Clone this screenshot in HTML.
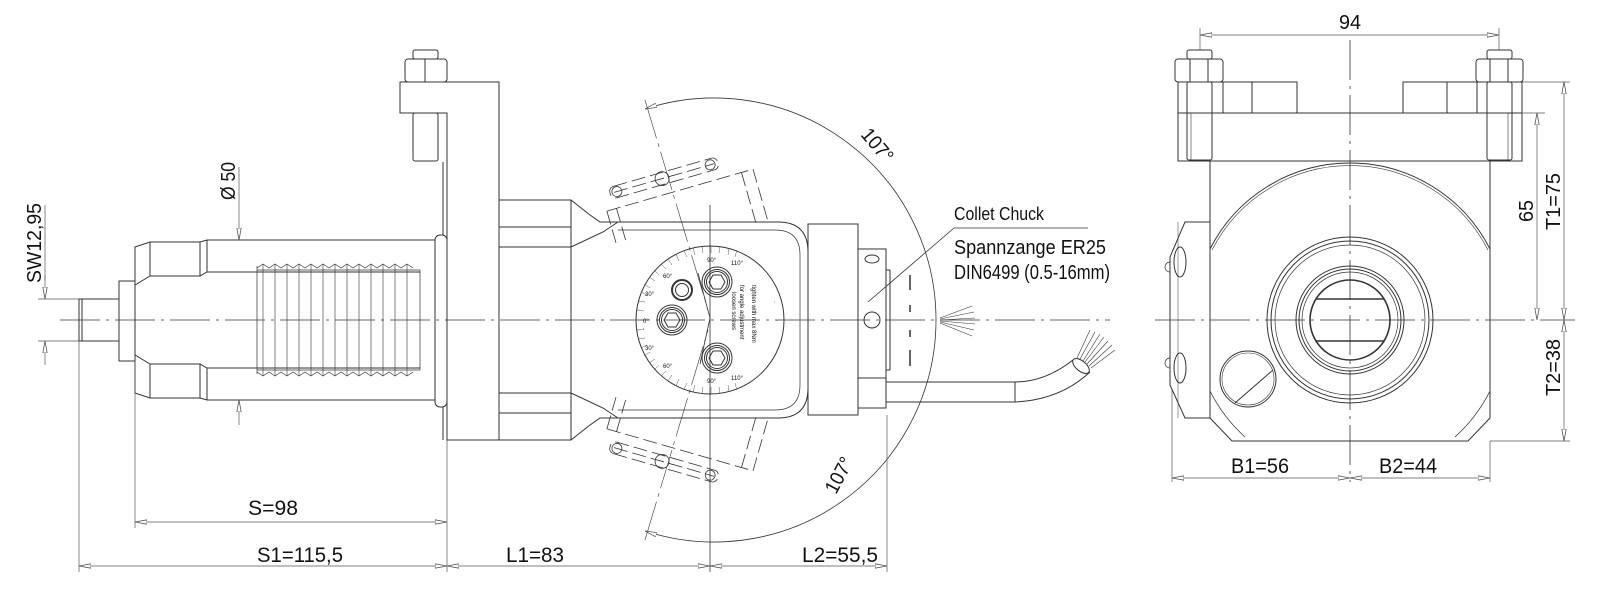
<!DOCTYPE html>
<html><head><meta charset="utf-8"><style>
html,body{margin:0;padding:0;background:#fff;}
svg{display:block;}
text{font-family:"Liberation Sans",sans-serif;fill:#111;}
</style></head><body>
<svg width="1600" height="615" viewBox="0 0 1600 615" xmlns="http://www.w3.org/2000/svg">
<defs>
<marker id="a" viewBox="0 0 12 6" refX="12" refY="3" markerWidth="12" markerHeight="6" orient="auto-start-reverse" markerUnits="userSpaceOnUse">
<path d="M0,0.8 L12,3 L0,5.2 Z" fill="#fff" stroke="#555" stroke-width="0.8"/></marker>
</defs>
<g fill="none" stroke="#333" stroke-width="1">
<!-- centerlines -->
<line x1="60" y1="320" x2="1110" y2="320" stroke-dasharray="40,6,3,6" stroke-width="0.8"/>
<line x1="1155" y1="320" x2="1575" y2="320" stroke-dasharray="40,6,3,6" stroke-width="0.8"/>
<line x1="1350" y1="40" x2="1350" y2="482" stroke-dasharray="40,6,3,6" stroke-width="0.8"/>
<line x1="710" y1="205" x2="710" y2="572" stroke-width="0.8"/>

<!-- LEFT VIEW: shaft -->
<rect x="79" y="299" width="40" height="42"/>
<line x1="82" y1="299" x2="82" y2="341"/>
<rect x="119" y="281" width="16" height="80"/>
<path d="M135,247 L150,242 L200,242 L207,240 L435,240 L435,400 L207,400 L200,398 L150,398 L135,393 Z"/>
<path d="M135,285 L150,276 L200,276 L207,272 L420,272 M135,355 L150,364 L200,364 L207,368 L420,368"/>
<line x1="150" y1="242" x2="150" y2="276"/><line x1="150" y1="364" x2="150" y2="398"/>
<line x1="200" y1="242" x2="200" y2="276"/><line x1="200" y1="364" x2="200" y2="398"/>
<line x1="207" y1="240" x2="207" y2="272"/><line x1="207" y1="368" x2="207" y2="400"/>
<!-- threads -->
<path d="M257,266 l0,108 M420,270 l0,100 M257,270 L420,270 M257,370 L420,370" stroke-width="0.7"/>
<path id="thr" d="M257,268 l6,-4 l6,4 l6,-4 l6,4 l6,-4 l6,4 l6,-4 l6,4 l6,-4 l6,4 l6,-4 l6,4 l6,-4 l6,4 l6,-4 l6,4 l6,-4 l6,4 l6,-4 l6,4 l6,-4 l6,4 l6,-4 l6,4 l6,-4 l6,4" stroke-width="0.7"/>
<path d="M257,372 l6,4 l6,-4 l6,4 l6,-4 l6,4 l6,-4 l6,4 l6,-4 l6,4 l6,-4 l6,4 l6,-4 l6,4 l6,-4 l6,4 l6,-4 l6,4 l6,-4 l6,4 l6,-4 l6,4 l6,-4 l6,4 l6,-4 l6,4 l6,-4" stroke-width="0.7"/>
<g stroke-width="0.6">
<line x1="263" y1="264" x2="263" y2="376"/><line x1="275" y1="264" x2="275" y2="376"/><line x1="287" y1="264" x2="287" y2="376"/><line x1="299" y1="264" x2="299" y2="376"/><line x1="311" y1="264" x2="311" y2="376"/><line x1="323" y1="264" x2="323" y2="376"/><line x1="335" y1="264" x2="335" y2="376"/><line x1="347" y1="264" x2="347" y2="376"/><line x1="359" y1="264" x2="359" y2="376"/><line x1="371" y1="264" x2="371" y2="376"/><line x1="383" y1="264" x2="383" y2="376"/><line x1="395" y1="264" x2="395" y2="376"/><line x1="407" y1="264" x2="407" y2="376"/>
</g>
<rect x="435" y="235" width="12" height="172" rx="5"/>
<!-- bolt & clamp plate -->
<rect x="413" y="50" width="25" height="9" rx="2"/>
<rect x="405" y="59" width="42" height="23" rx="3"/>
<line x1="425" y1="59" x2="425" y2="82"/>
<rect x="413" y="113" width="25" height="48" rx="2"/>
<path d="M400,82 L499,82 L499,440 L447,440 L447,113 L400,113 Z"/>
<line x1="443" y1="162" x2="443" y2="235"/><line x1="443" y1="407" x2="443" y2="440"/>
<!-- housing -->
<rect x="499" y="200" width="72" height="240"/>
<line x1="499" y1="227" x2="571" y2="227"/><line x1="499" y1="247" x2="571" y2="247"/>
<line x1="499" y1="393" x2="571" y2="393"/><line x1="499" y1="413" x2="571" y2="413"/>
<path d="M571,247 L603,232 L618,222 M571,393 L603,408 L618,418"/>
<path d="M571,200 L590,215 L600,222 L618,222 M571,440 L590,425 L600,418 L618,418"/>
<!-- head -->
<path d="M618,222 L778,222 Q808,222 808,252 L808,388 Q808,418 778,418 L618,418"/>
<path d="M618,230 L775,230 Q800,230 800,255 L800,385 Q800,410 775,410 L618,410" stroke-width="0.7"/>
<rect x="808" y="224" width="50" height="191"/>
<rect x="858" y="249" width="28" height="129"/>
<ellipse cx="872" cy="259" rx="7" ry="4"/>
<circle cx="872" cy="320" r="8"/>
<rect x="886" y="270" width="4" height="100"/>
<g stroke-width="1.5"><line x1="910" y1="275" x2="910" y2="290"/><line x1="910" y1="305" x2="910" y2="312"/><line x1="910" y1="330" x2="910" y2="337"/><line x1="910" y1="350" x2="910" y2="366"/></g>
<rect x="858" y="378" width="28" height="30"/>
<!-- cable -->
<path d="M886,382 L1015,382 Q1045,382 1073,360 M886,402 L1015,402 Q1060,400 1090,372"/>
<line x1="1015" y1="382" x2="1015" y2="402"/>
<ellipse cx="1081" cy="366" rx="10" ry="5" transform="rotate(40 1081 366)"/>
<g stroke-width="0.6"><line x1="1077" y1="358" x2="1090" y2="330"/><line x1="1080" y1="359" x2="1095" y2="332"/><line x1="1083" y1="361" x2="1100" y2="334"/><line x1="1085" y1="362" x2="1104" y2="337"/><line x1="1087" y1="364" x2="1108" y2="341"/><line x1="1089" y1="366" x2="1112" y2="345"/><line x1="1091" y1="368" x2="1115" y2="350"/></g>
<g stroke-width="0.6"><line x1="940" y1="318" x2="972" y2="306"/><line x1="940" y1="319" x2="974" y2="312"/><line x1="940" y1="320" x2="975" y2="318"/><line x1="940" y1="321" x2="975" y2="324"/><line x1="940" y1="322" x2="974" y2="330"/><line x1="940" y1="323" x2="972" y2="336"/></g>
<!-- dial -->
<circle cx="710" cy="320" r="74"/>
<circle cx="710" cy="320" r="67" stroke-width="0.5" stroke-dasharray="1,200"/>
<path id="ticks" stroke-width="0.6" d=""/>
<path d="M698,273 L710,318 L700,364" stroke-width="0.8"/>
<g id="scr">
<circle cx="672" cy="320" r="15"/><circle cx="672" cy="320" r="12.5"/><circle cx="672" cy="320" r="10.5"/><path d="M664,320 l4,-7 l8,0 l4,7 l-4,7 l-8,0 Z"/>
<circle cx="717" cy="282" r="15"/><circle cx="717" cy="282" r="12.5"/><circle cx="717" cy="282" r="10.5"/><path d="M709,282 l4,-7 l8,0 l4,7 l-4,7 l-8,0 Z"/>
<circle cx="717" cy="358" r="15"/><circle cx="717" cy="358" r="12.5"/><circle cx="717" cy="358" r="10.5"/><path d="M709,358 l4,-7 l8,0 l4,7 l-4,7 l-8,0 Z"/>
</g>
<circle cx="682" cy="290" r="10" stroke-width="2"/><circle cx="682" cy="290" r="6.5"/>
<!-- ghost heads -->
<g stroke-dasharray="14,5" stroke-width="0.8" transform="rotate(-16 650 180)">
<path d="M600,198 L752,198 L752,255"/><path d="M740,198 L740,255"/>
<rect x="608" y="176" width="112" height="12" rx="5"/>
<line x1="612" y1="182" x2="716" y2="182"/>
<circle cx="615" cy="182" r="5" stroke-dasharray="none"/><circle cx="662" cy="182" r="7" stroke-dasharray="none"/><circle cx="712" cy="182" r="5" stroke-dasharray="none"/>
<line x1="600" y1="198" x2="600" y2="235"/><line x1="610" y1="198" x2="610" y2="235"/>
</g>
<g stroke-dasharray="14,5" stroke-width="0.8" transform="translate(0,640) scale(1,-1) rotate(-16 650 180)">
<path d="M600,198 L752,198 L752,255"/><path d="M740,198 L740,255"/>
<rect x="608" y="176" width="112" height="12" rx="5"/>
<line x1="612" y1="182" x2="716" y2="182"/>
<circle cx="615" cy="182" r="5" stroke-dasharray="none"/><circle cx="662" cy="182" r="7" stroke-dasharray="none"/><circle cx="712" cy="182" r="5" stroke-dasharray="none"/>
<line x1="600" y1="198" x2="600" y2="235"/><line x1="610" y1="198" x2="610" y2="235"/>
</g>
<line x1="645" y1="100" x2="708" y2="310" stroke-width="0.6" stroke-dasharray="40,5,4,5"/>
<line x1="645" y1="540" x2="708" y2="330" stroke-width="0.6" stroke-dasharray="40,5,4,5"/>
<!-- 107 arc -->
<path d="M645,109 A222,222 0 1 1 645,531" stroke-width="0.8" marker-start="url(#a)" marker-end="url(#a)"/>
<!-- collet leader -->
<path d="M1088,228 L954,228 L868,302" stroke-width="0.8"/>

<!-- dimensions left -->
<g stroke-width="0.7" stroke="#555">
<line x1="38" y1="299" x2="79" y2="299"/><line x1="38" y1="341" x2="79" y2="341"/>
<line x1="45" y1="275" x2="45" y2="299" marker-end="url(#a)"/><line x1="45" y1="365" x2="45" y2="341" marker-end="url(#a)"/>
<line x1="45" y1="205" x2="45" y2="280"/>
<line x1="239" y1="167" x2="239" y2="240" marker-end="url(#a)"/><line x1="239" y1="425" x2="239" y2="400" marker-end="url(#a)"/>
<line x1="79" y1="341" x2="79" y2="572"/><line x1="135" y1="361" x2="135" y2="528"/><line x1="447" y1="440" x2="447" y2="572"/><line x1="887" y1="415" x2="887" y2="572"/>
<line x1="135" y1="522" x2="447" y2="522" marker-start="url(#a)" marker-end="url(#a)"/>
<line x1="79" y1="566" x2="447" y2="566" marker-start="url(#a)" marker-end="url(#a)"/>
<line x1="447" y1="566" x2="710" y2="566" marker-start="url(#a)" marker-end="url(#a)"/>
<line x1="710" y1="566" x2="887" y2="566" marker-start="url(#a)" marker-end="url(#a)"/>
</g>

<!-- RIGHT VIEW -->
<rect x="1187" y="50" width="25" height="9" rx="2"/><rect x="1175" y="59" width="48" height="23" rx="3"/>
<line x1="1190" y1="59" x2="1190" y2="82"/><line x1="1208" y1="59" x2="1208" y2="82"/>
<rect x="1487" y="50" width="25" height="9" rx="2"/><rect x="1476" y="59" width="47" height="23" rx="3"/>
<line x1="1490" y1="59" x2="1490" y2="82"/><line x1="1508" y1="59" x2="1508" y2="82"/>
<path d="M1178,82 L1297,82 L1297,113 L1178,113 Z M1403,82 L1522,82 L1522,113 L1403,113 Z"/>
<rect x="1178" y="113" width="344" height="48"/>
<line x1="1223" y1="82" x2="1223" y2="113"/><line x1="1252" y1="82" x2="1252" y2="113"/><line x1="1447" y1="82" x2="1447" y2="113"/><line x1="1477" y1="82" x2="1477" y2="113"/>
<rect x="1187" y="82" width="25" height="78" rx="2"/><rect x="1487" y="82" width="25" height="78" rx="2"/>
<line x1="1191" y1="113" x2="1191" y2="160" stroke-width="0.6"/><line x1="1508" y1="113" x2="1508" y2="160" stroke-width="0.6"/>
<path d="M1210,161 L1210,418 L1232,441 L1468,441 L1490,418 L1490,161"/>
<path d="M1210,249 A157,157 0 0 1 1490,249" /><path d="M1212,250 A155,155 0 0 1 1488,250" stroke-width="0.6"/>
<path d="M1210,391 A157,157 0 0 0 1245,437 M1490,391 A157,157 0 0 1 1455,437" stroke-width="0.8"/>
<path d="M1185,222 L1210,222 L1210,418 L1185,418 L1170,385 L1170,257 Z"/>
<line x1="1178" y1="222" x2="1178" y2="418" stroke-width="0.5"/>
<ellipse cx="1180" cy="262" rx="6" ry="15"/><ellipse cx="1180" cy="368" rx="6" ry="15"/>
<path d="M1170,262 a4,4 0 0 0 0,10 M1170,358 a4,4 0 0 0 0,10" stroke-width="0.7"/>
<circle cx="1350" cy="320" r="83"/><circle cx="1350" cy="320" r="79"/><circle cx="1350" cy="320" r="75" stroke-width="0.7"/>
<circle cx="1350" cy="320" r="54"/><circle cx="1350" cy="320" r="51"/><circle cx="1350" cy="320" r="48" stroke-width="0.7"/>
<circle cx="1350" cy="320" r="40" stroke-width="1.6"/>
<line x1="1316" y1="299" x2="1384" y2="299" stroke-width="1.5"/><line x1="1316" y1="341" x2="1384" y2="341" stroke-width="1.5"/>
<circle cx="1248" cy="379" r="28"/><circle cx="1248" cy="379" r="26" stroke-width="0.6"/><line x1="1235" y1="403" x2="1273" y2="370"/>
<!-- right dims -->
<g stroke-width="0.7" stroke="#555">
<line x1="1200" y1="28" x2="1200" y2="50"/><line x1="1499" y1="28" x2="1499" y2="50"/>
<line x1="1200" y1="35" x2="1499" y2="35" marker-start="url(#a)" marker-end="url(#a)"/>
<line x1="1522" y1="82" x2="1570" y2="82"/><line x1="1522" y1="113" x2="1545" y2="113"/><line x1="1490" y1="441" x2="1570" y2="441"/>
<line x1="1537" y1="113" x2="1537" y2="320" marker-start="url(#a)" marker-end="url(#a)"/>
<line x1="1564" y1="82" x2="1564" y2="320" marker-start="url(#a)" marker-end="url(#a)"/>
<line x1="1564" y1="320" x2="1564" y2="441" marker-start="url(#a)" marker-end="url(#a)"/>
<line x1="1172" y1="390" x2="1172" y2="482"/><line x1="1490" y1="441" x2="1490" y2="482"/>
<line x1="1172" y1="478" x2="1350" y2="478" marker-start="url(#a)" marker-end="url(#a)"/>
<line x1="1350" y1="478" x2="1490" y2="478" marker-start="url(#a)" marker-end="url(#a)"/>
</g>
</g>
<!-- dial ticks -->
<g stroke="#444" stroke-width="0.5">
<script></script>
</g>
<g stroke="#555" stroke-width="0.5" fill="none">
<path d="M737,250 L735,257 M729,248 L728,255 M720,246 L719,253 M711,246 L711,253 M702,246 L703,253 M693,248 L695,255 M684,251 L687,257 M676,254 L679,261 M668,259 L672,265 M661,264 L666,269 M654,270 L659,275 M649,277 L655,281 M644,284 L650,288 M641,292 L647,295 M638,301 L645,302 M637,310 L644,311 M636,320 L643,320 M637,330 L644,329 M638,339 L645,338 M641,348 L647,345 M644,356 L650,352 M649,363 L655,359 M654,370 L659,365 M661,376 L666,371 M668,381 L672,375 M676,386 L679,379 M684,389 L687,383 M693,392 L695,385 M702,394 L703,387 M711,394 L711,387 M720,394 L719,387 M729,392 L728,385 M737,390 L735,383"/>
</g>
<!-- text -->
<text transform="translate(41,283) rotate(-90)" font-size="20" textLength="80" lengthAdjust="spacingAndGlyphs">SW12,95</text>
<text transform="translate(235,200) rotate(-90)" font-size="20" textLength="38" lengthAdjust="spacingAndGlyphs">Ø 50</text>
<text x="248" y="515" font-size="21" textLength="50" lengthAdjust="spacingAndGlyphs">S=98</text>
<text x="257" y="562" font-size="21" textLength="86" lengthAdjust="spacingAndGlyphs">S1=115,5</text>
<text x="506" y="562" font-size="21" textLength="58" lengthAdjust="spacingAndGlyphs">L1=83</text>
<text x="802" y="562" font-size="21" textLength="76" lengthAdjust="spacingAndGlyphs">L2=55,5</text>
<text transform="translate(860,135) rotate(50)" font-size="20" textLength="38" lengthAdjust="spacingAndGlyphs">107°</text>
<text transform="translate(836,495) rotate(-62)" font-size="20" textLength="38" lengthAdjust="spacingAndGlyphs">107°</text>
<text x="954" y="220" font-size="18" textLength="90" lengthAdjust="spacingAndGlyphs">Collet Chuck</text>
<text x="954" y="254" font-size="20" textLength="152" lengthAdjust="spacingAndGlyphs">Spannzange ER25</text>
<text x="954" y="279" font-size="20" textLength="156" lengthAdjust="spacingAndGlyphs">DIN6499 (0.5-16mm)</text>
<text x="1339" y="29" font-size="20" textLength="22" lengthAdjust="spacingAndGlyphs">94</text>
<text transform="translate(1533,222) rotate(-90)" font-size="20" textLength="22" lengthAdjust="spacingAndGlyphs">65</text>
<text transform="translate(1560,230) rotate(-90)" font-size="20" textLength="57" lengthAdjust="spacingAndGlyphs">T1=75</text>
<text transform="translate(1560,396) rotate(-90)" font-size="20" textLength="57" lengthAdjust="spacingAndGlyphs">T2=38</text>
<text x="1231" y="473" font-size="21" textLength="58" lengthAdjust="spacingAndGlyphs">B1=56</text>
<text x="1379" y="473" font-size="21" textLength="58" lengthAdjust="spacingAndGlyphs">B2=44</text>
<g font-size="6" fill="#333">
<text transform="translate(740,285) rotate(90)">for angle adjustment</text>
<text transform="translate(732,292) rotate(90)">loosen screws</text>
<text transform="translate(752,285) rotate(90)">tighten with max 8Nm</text>
<text x="663" y="278">60°</text><text x="645" y="296">30°</text><text x="643" y="323">0°</text><text x="645" y="350">30°</text><text x="663" y="368">60°</text>
<text x="707" y="262">90°</text><text x="731" y="265">110°</text><text x="707" y="383">90°</text><text x="731" y="380">110°</text>
</g>
</svg>
</body></html>
